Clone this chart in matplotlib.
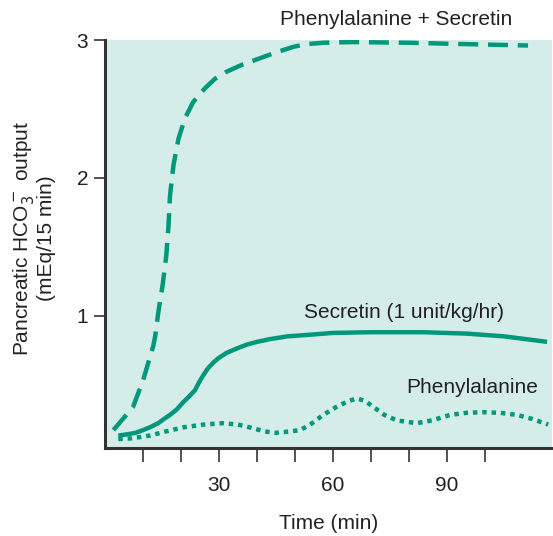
import numpy as np
import matplotlib.pyplot as plt

plt.rcParams['font.family'] = ['Liberation Sans', 'DejaVu Sans']

# Phenylalanine + Secretin (dashed)
t_both = [2.2, 5, 7.4, 10, 12.7, 13.2, 14, 15.2, 16.1, 16.7, 17.1, 18, 19.3, 21, 23.2, 26.3, 29, 32, 36,
          40, 45, 49.5, 53, 57.4, 65, 80, 95, 111.3]
y_both = [0.17, 0.26, 0.34, 0.53, 0.78, 0.85, 1.02, 1.23, 1.43, 1.65, 1.87, 2.09, 2.28, 2.43, 2.55, 2.65, 2.72, 2.77, 2.82,
          2.86, 2.91, 2.95, 2.97, 2.98, 2.985, 2.98, 2.97, 2.96]

# Secretin (solid)
t_sec = [3.5, 6, 8, 10, 11.8, 14, 15.5, 17.1, 18.9, 20.5, 22, 23.7, 24.7, 25.8, 27, 28.5, 30, 32, 34.5, 37.3, 40,
         43.4, 48, 53, 60, 70, 83.7, 95, 105, 116.3]
y_sec = [0.13, 0.14, 0.15, 0.17, 0.19, 0.22, 0.25, 0.28, 0.32, 0.37, 0.41, 0.46, 0.515, 0.565, 0.615, 0.66, 0.695, 0.73, 0.76, 0.79, 0.81,
         0.83, 0.85, 0.86, 0.875, 0.88, 0.88, 0.87, 0.85, 0.81]

# Phenylalanine (dotted)
t_phe = [3.5, 7, 11.8, 16, 20.6, 26, 31, 35, 38, 42, 45, 48.7, 51.3, 54, 57.4, 61, 64, 66.3, 68.5, 70.5,
         73.5, 76.8, 82, 86, 90.8, 95, 99.5, 104, 108.4, 112.5, 116.6]
y_phe = [0.105, 0.11, 0.13, 0.16, 0.19, 0.21, 0.22, 0.21, 0.19, 0.16, 0.15, 0.16, 0.17, 0.21, 0.28, 0.34, 0.38, 0.40, 0.38, 0.34,
         0.28, 0.24, 0.22, 0.24, 0.28, 0.295, 0.30, 0.295, 0.28, 0.25, 0.21]

xticks = [10, 20, 30, 40, 50, 60, 70, 80, 90, 100]
xticklabels = ['', '', '30', '', '', '60', '', '', '90', '']
yticks = [1, 2, 3]

green = '#00977a'
txt = '#222222'
fig = plt.figure(figsize=(5.53, 5.36), dpi=100)
ax = fig.add_axes([105/553, 88/536, 447/553, 408/536])
ax.set_facecolor('#d5ede8')

ax.plot(t_both, y_both, color=green, lw=3.2, dashes=(4.5, 2.2), solid_capstyle='butt')
ax.plot(t_sec, y_sec, color=green, lw=3.2, solid_capstyle='butt', solid_joinstyle='round')
ax.plot(t_phe, y_phe, color=green, lw=3.2, dashes=(1, 1.1), dash_capstyle='butt')

ax.set_xlim(0, 117.6)
ax.set_ylim(0.04, 3.0)
ax.spines['top'].set_visible(False)
ax.spines['right'].set_visible(False)
for s in ['left', 'bottom']:
    ax.spines[s].set_color('#333333')
    ax.spines[s].set_linewidth(2.2)

ax.set_xticks(xticks)
ax.set_xticklabels(xticklabels)
ax.set_yticks(yticks)
ax.tick_params(axis='x', length=10, width=1.2, color='#333333', labelsize=15, pad=10, labelcolor=txt)
ax.tick_params(axis='y', length=8, width=1.2, color='#333333', labelsize=15, pad=4, labelcolor=txt)

ax.set_xlabel('Time (min)', fontsize=15, color=txt, labelpad=14)
ax.set_ylabel('Pancreatic HCO$_3^-$ output\n(mEq/15 min)', fontsize=15, color=txt,
              linespacing=1.05)
ax.yaxis.set_label_coords(-0.11, 0.515)

ax.text(76.6, 3.15, 'Phenylalanine + Secretin', fontsize=15, ha='center', va='center', color=txt, clip_on=False)
ax.text(78.6, 1.02, 'Secretin (1 unit/kg/hr)', fontsize=15, ha='center', va='center', color=txt)
ax.text(96.6, 0.48, 'Phenylalanine', fontsize=15, ha='center', va='center', color=txt)

fig.savefig('out.png', dpi=100)
